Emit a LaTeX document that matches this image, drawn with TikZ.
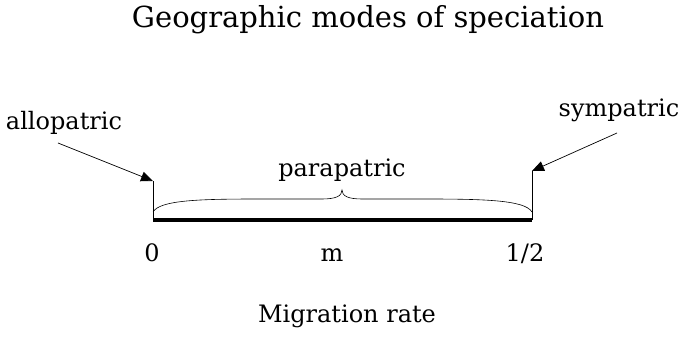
\documentclass[tikz,border=0pt]{standalone}
\usepackage{fontspec}
\setmainfont{DejaVu Serif}
\usetikzlibrary{arrows.meta}
\tikzset{
  lbl/.style={inner sep=0pt, anchor=base, font=\fontsize{24}{28}\selectfont},
  ttl/.style={inner sep=0pt, anchor=base, font=\fontsize{29}{33}\selectfont},
  thin/.style={line width=0.8pt, black},
  pointer/.style={line width=0.7pt, -{Triangle[length=12pt,width=10pt]}},
}
\begin{document}
\begin{tikzpicture}[x=1pt,y=-1pt]
\useasboundingbox (0,0) rectangle (683,347);
\node[ttl] (title) at (368,28) {Geographic modes of speciation};
\node[lbl] (allo) at (64,130) {allopatric};
\node[lbl] (symp) at (619,117) {sympatric};
\node[lbl] (para) at (342,177) {parapatric};
\node[lbl] (zero) at (152,262) {0};
\node[lbl] (m) at (332,262) {m};
\node[lbl] (half) at (525,262) {1/2};
\node[lbl] (xlab) at (347,323) {Migration rate};
\coordinate (L0) at (153,220);
\coordinate (R0) at (532,220);
\coordinate (Ltop) at (153,181);
\coordinate (Rtop) at (532,171);
\coordinate (Astart) at (58,143);
\coordinate (Sstart) at (617,133);
\draw[line width=4pt] (L0) -- (R0);
\draw[thin] (L0) -- (Ltop);
\draw[thin] (R0) -- (Rtop);
\draw[pointer] (Astart) -- (Ltop);
\draw[pointer] (Sstart) -- (Rtop);
\draw[line width=0.6pt] (153,212) .. controls (160,200) and (200,199) .. (260,199)
  -- (322,199) .. controls (336,199) and (342,196) .. (342,190)
  .. controls (342,196) and (348,199) .. (362,199)
  -- (424,199) .. controls (484,199) and (525,200) .. (532,212);
\end{tikzpicture}
\end{document}
